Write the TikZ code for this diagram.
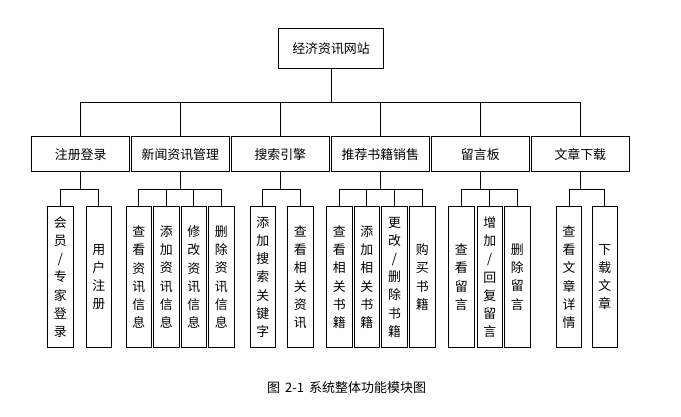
\documentclass[tikz,border=0pt]{standalone}
\usepackage{fontspec}
\newfontfamily\cjk{Noto Sans CJK SC}
\begin{document}
\begin{tikzpicture}[x=1pt,y=-1pt,line width=0.8pt,
  box/.style={draw, inner sep=0pt, align=center, font=\cjk\fontsize{12.9}{15}\selectfont},
  rootbox/.style={box, minimum width=104.6pt, minimum height=40pt},
  lvone/.style={box, minimum width=98pt, minimum height=35pt},
  leaf/.style={box, minimum width=25.5pt, minimum height=140.8pt, font=\cjk\fontsize{12.9}{18.2}\selectfont},
  link/.style={draw, line width=0.8pt}]
\useasboundingbox (0,0) rectangle (681,417);
\fill[white] (0,0) rectangle (681,417);

\node[rootbox] (root) at (331,48.3) {经济资讯网站};

\node[lvone] (a) at (80.7,154.2) {注册登录};
\node[lvone] (b) at (180.3,154.2) {新闻资讯管理};
\node[lvone] (c) at (280.3,154.2) {搜索引擎};
\node[lvone] (d) at (380.3,154.2) {推荐书籍销售};
\node[lvone] (e) at (480.3,154.2) {留言板};
\node[lvone] (f) at (580.3,154.2) {文章下载};

\foreach \n in {a,b,c,d,e,f}
  \draw[link] (root.south) -- ++(0,34.2) -| (\n.north);

\node[leaf] (a1) at (60.3,277.1) {会\\员\\/\\专\\家\\登\\录};
\node[leaf] (a2) at (98.8,277.1) {用\\户\\注\\册};

\node[leaf] (b1) at (138.8,277.1) {查\\看\\资\\讯\\信\\息};
\node[leaf] (b2) at (166.2,277.1) {添\\加\\资\\讯\\信\\息};
\node[leaf] (b3) at (193.7,277.1) {修\\改\\资\\讯\\信\\息};
\node[leaf] (b4) at (221.2,277.1) {删\\除\\资\\讯\\信\\息};

\node[leaf] (c1) at (262.8,277.1) {添\\加\\搜\\索\\关\\键\\字};
\node[leaf] (c2) at (300.2,277.1) {查\\看\\相\\关\\资\\讯};

\node[leaf] (d1) at (339.2,277.1) {查\\看\\相\\关\\书\\籍};
\node[leaf] (d2) at (366.8,277.1) {添\\加\\相\\关\\书\\籍};
\node[leaf] (d3) at (394.5,277.1) {更\\改\\/\\删\\除\\书\\籍};
\node[leaf] (d4) at (422.2,277.1) {购\\买\\书\\籍};

\node[leaf] (e1) at (461.3,277.1) {查\\看\\留\\言};
\node[leaf] (e2) at (489.7,277.1) {增\\加\\/\\回\\复\\留\\言};
\node[leaf] (e3) at (517.3,277.1) {删\\除\\留\\言};

\node[leaf] (f1) at (569,277.1) {查\\看\\文\\章\\详\\情};
\node[leaf] (f2) at (604.7,277.1) {下\\载\\文\\章};

\foreach \p/\kids in {a/{a1,a2}, b/{b1,b2,b3,b4}, c/{c1,c2}, d/{d1,d2,d3,d4}, e/{e1,e2,e3}, f/{f1,f2}}
  \foreach \k in \kids
    \draw[link] (\p.south) -- ++(0,17.3) -| (\k.north);

\node[font=\cjk\fontsize{13}{15}\selectfont, inner sep=0pt] (cap) at (346.7,388) {图\hspace{5pt}2-1\hspace{5pt}系统整体功能模块图};
\end{tikzpicture}
\end{document}
